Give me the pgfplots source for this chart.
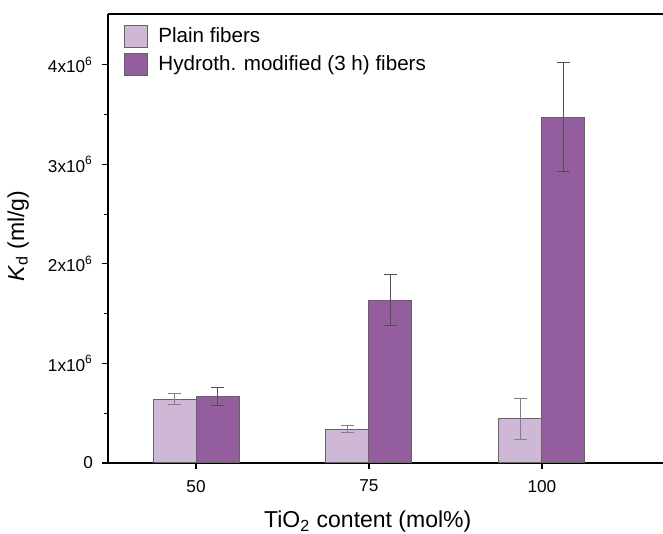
\documentclass[border=0pt]{standalone}
\usepackage{fontspec}
\setmainfont{Liberation Sans}
\usepackage{pgfplots}
\pgfplotsset{compat=1.18}
\definecolor{plain}{RGB}{206,184,214}
\definecolor{hydro}{RGB}{148,94,158}
\definecolor{edge}{RGB}{100,100,100}
\begin{document}
\begin{tikzpicture}
\useasboundingbox (-54pt,-35.5pt) rectangle (277.5pt,231.5pt);
\begin{axis}[
  at={(0,0)}, anchor=south west,
  scale only axis,
  width=277.5pt, height=224.5pt,
  xmin=-0.509, xmax=2.70,
  ymin=0, ymax=4.51e6,
  axis x line*=bottom, axis y line*=left,
  axis line style={line width=0.6pt, -},
  tick align=outside,
  tick style={black, line width=0.6pt},
  major tick length=3pt, minor tick length=1.8pt,
  xtick={0,1,2}, xticklabels={50,75,100},
  ytick={0,1e6,2e6,3e6,4e6},
  yticklabels={0,1x10\textsuperscript{6},2x10\textsuperscript{6},3x10\textsuperscript{6},4x10\textsuperscript{6}},
  minor ytick={0.5e6,1.5e6,2.5e6,3.5e6},
  scaled y ticks=false,
  ticklabel style={font=\fontsize{8.6}{10}\selectfont},
  xticklabel style={yshift=-2pt},
  yticklabel style={xshift=-1pt},
  xlabel={TiO\textsubscript{2} content (mol\%)},
  ylabel={\textit{K}\textsubscript{d} (ml/g)},
  label style={font=\fontsize{11.5}{13}\selectfont},
  xlabel style={at={(axis description cs:0.468,-0.131)}, anchor=center},
  ylabel style={at={(axis description cs:-0.162,0.505)}, anchor=center},
  ybar, bar width=0.2486,
  legend style={at={(axis description cs:0,1)}, anchor=north west, xshift=5pt, yshift=-2.5pt,
    draw=none, fill=none, font=\fontsize{10.3}{12}\selectfont, row sep=1pt},
  legend cell align=left,
  legend image code/.code={\draw[#1, line width=0.5pt] (0pt,-5.5pt) rectangle (11.5pt,5.5pt); \path (14.5pt,0pt);},
]
\addplot[fill=plain, draw=edge, line width=0.5pt, bar shift=-0.1243,
  error bars/y dir=both, error bars/y explicit,
  error bars/error bar style={color=gray, line width=0.5pt},
  error bars/error mark options={rotate=90, mark size=3.25pt, line width=0.5pt, gray}]
  coordinates {(0,0.64e6) +- (0,0.055e6) (1,0.34e6) +- (0,0.035e6) (2,0.445e6) +- (0,0.205e6)};
\addlegendentry{Plain fibers}
\addplot[fill=hydro, draw=edge, line width=0.5pt, bar shift=0.1243,
  error bars/y dir=both, error bars/y explicit,
  error bars/error bar style={color=edge!80!black, line width=0.5pt},
  error bars/error mark options={rotate=90, mark size=3.25pt, line width=0.5pt, edge!80!black}]
  coordinates {(0,0.67e6) +- (0,0.09e6) (1,1.635e6) +- (0,0.255e6) (2,3.475e6) +- (0,0.545e6)};
\addlegendentry{Hydroth. modified (3 h) fibers}
\draw[line width=0.6pt] (rel axis cs:0,1) -- (rel axis cs:1,1);
\end{axis}
\end{tikzpicture}
\end{document}
